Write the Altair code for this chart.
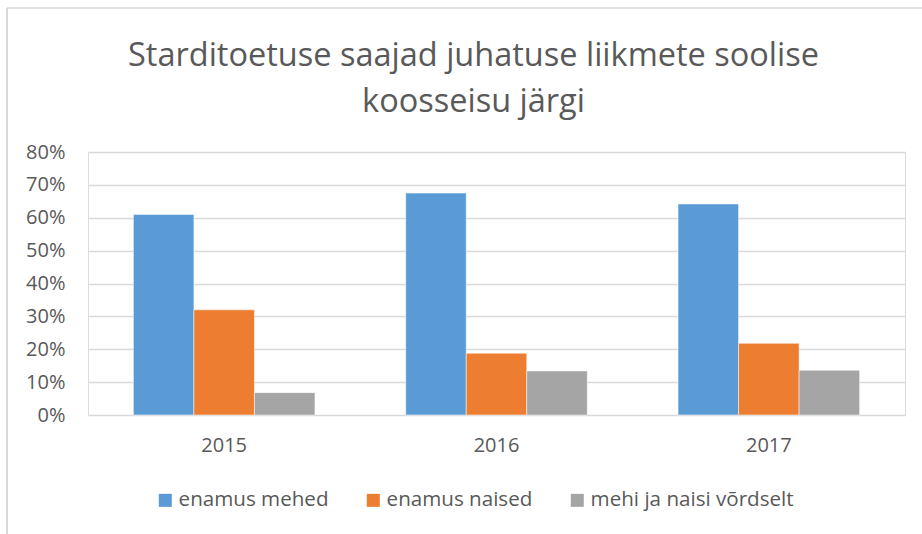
import altair as alt
import pandas as pd

years = ["2015", "2016", "2017"]
series = ["enamus mehed", "enamus naised", "mehi ja naisi võrdselt"]
mehed = [0.61, 0.675, 0.642]
naised = [0.32, 0.188, 0.218]
vordselt = [0.068, 0.134, 0.136]
colors = ["#5b9bd5", "#ed7d31", "#a5a5a5"]
title_lines = ["Starditoetuse saajad juhatuse liikmete soolise", "koosseisu järgi"]

rows = []
for i, y in enumerate(years):
    for s, vals in zip(series, [mehed, naised, vordselt]):
        rows.append({"aasta": y, "seeria": s, "vaartus": vals[i]})
df = pd.DataFrame(rows)

FONT = "Open Sans"
TXT = "#595959"
GRID = "#d9d9d9"

bars = alt.Chart(df).mark_bar(stroke="white", strokeWidth=0.5).encode(
    x=alt.X("aasta:N", sort=years, title=None,
            scale=alt.Scale(paddingInner=0.3333, paddingOuter=0.16667),
            axis=alt.Axis(labelAngle=0, ticks=False, tickSize=0, domain=False,
                          labelPadding=20, labelFontSize=20, labelColor=TXT,
                          labelFont=FONT, grid=False)),
    xOffset=alt.XOffset("seeria:N", sort=series, scale=alt.Scale(paddingInner=0, paddingOuter=0)),
    y=alt.Y("vaartus:Q", title=None,
            scale=alt.Scale(domain=[0, 0.8], nice=False),
            axis=alt.Axis(format=".0%", values=[0, 0.1, 0.2, 0.3, 0.4, 0.5, 0.6, 0.7, 0.8],
                          ticks=False, tickSize=0, domain=False, labelPadding=23,
                          labelFontSize=20, labelColor=TXT, labelFont=FONT,
                          gridColor=GRID, gridWidth=1.5)),
    color=alt.Color("seeria:N", sort=series,
                    scale=alt.Scale(domain=series, range=colors),
                    legend=alt.Legend(title=None, orient="none", direction="horizontal",
                                      legendX=67, legendY=338, symbolType="square",
                                      symbolSize=169, symbolStrokeWidth=0,
                                      labelFontSize=20.6, labelColor=TXT, labelFont=FONT,
                                      labelOffset=3, columnPadding=34, labelLimit=400)),
)

border = alt.Chart(pd.DataFrame({"b": [0]})).mark_rule(color=GRID, strokeWidth=2).encode(
    x=alt.value(-81), y=alt.value(-144), y2=alt.value(390)
)
border_top = alt.Chart(pd.DataFrame({"b": [0]})).mark_rule(color=GRID, strokeWidth=1.5).encode(
    x=alt.value(-81), x2=alt.value(840), y=alt.value(-144)
)

chart = alt.layer(border, border_top, bars).properties(
    width=817, height=263,
    padding={"left": 88, "top": 152, "right": 17, "bottom": 119},
    autosize=alt.AutoSizeParams(type="none"),
    title=alt.TitleParams(text=title_lines, fontSize=32.5, font=FONT, fontWeight="normal",
                          color=TXT, lineHeight=46, anchor="middle", dx=-23, offset=-111),
).configure_view(stroke=None).configure(background="white")

chart.save("out.html", embed_options={"renderer": "svg", "actions": False})
